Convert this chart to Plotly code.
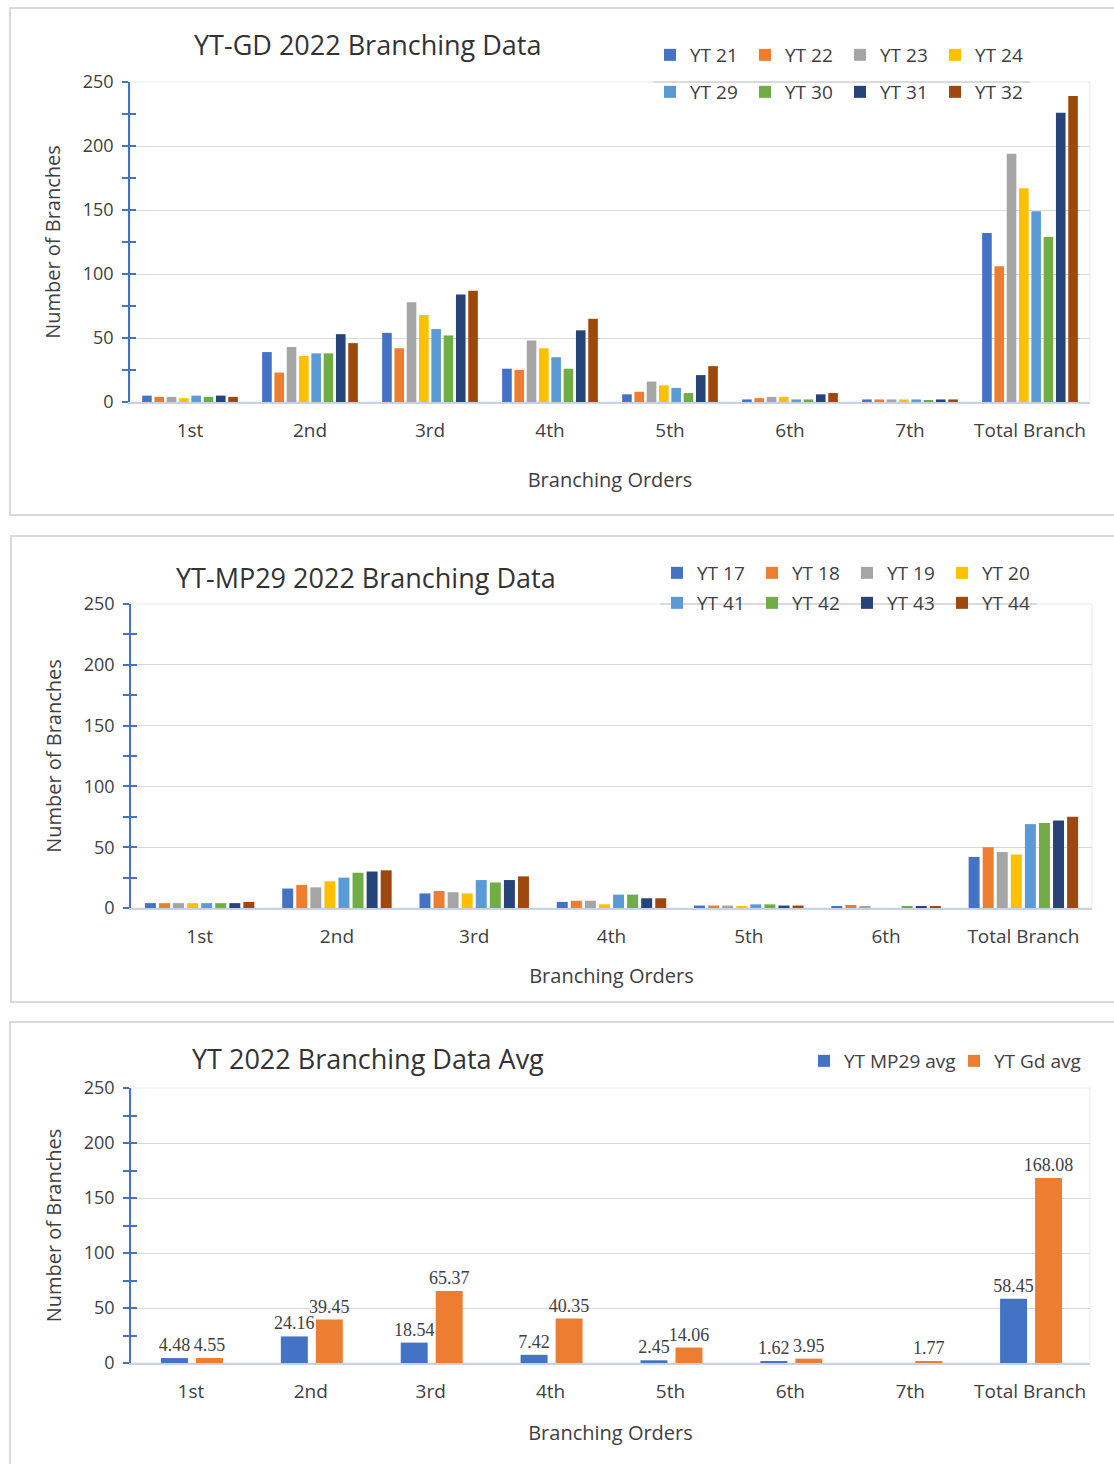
import plotly.graph_objects as go

# ---------------- data ----------------
orders_gd = ["1st", "2nd", "3rd", "4th", "5th", "6th", "7th", "Total Branch"]
orders_mp = ["1st", "2nd", "3rd", "4th", "5th", "6th", "Total Branch"]

gd_names = ["YT 21", "YT 22", "YT 23", "YT 24", "YT 29", "YT 30", "YT 31", "YT 32"]
yt21 = [5, 39, 54, 26, 6, 2, 2, 132]
yt22 = [4, 23, 42, 25, 8, 3, 2, 106]
yt23 = [4, 43, 78, 48, 16, 4, 2, 194]
yt24 = [3, 36, 68, 42, 13, 4, 2, 167]
yt29 = [5, 38, 57, 35, 11, 2, 2, 149]
yt30 = [4, 38, 52, 26, 7, 2, 1, 129]
yt31 = [5, 53, 84, 56, 21, 6, 2, 226]
yt32 = [4, 46, 87, 65, 28, 7, 2, 239]
gd_series = [yt21, yt22, yt23, yt24, yt29, yt30, yt31, yt32]

mp_names = ["YT 17", "YT 18", "YT 19", "YT 20", "YT 41", "YT 42", "YT 43", "YT 44"]
yt17 = [4, 16, 12, 5, 2, 1.5, 42]
yt18 = [4, 19, 14, 6, 2, 2.5, 50]
yt19 = [4, 17, 13, 6, 2, 1.5, 46]
yt20 = [4, 22, 12, 3, 1.5, 0, 44]
yt41 = [4, 25, 23, 11, 3, 0, 69]
yt42 = [4, 29, 21, 11, 3, 1.5, 70]
yt43 = [4, 30, 23, 8, 2, 1.5, 72]
yt44 = [5, 31, 26, 8, 2, 1.5, 75]
mp_series = [yt17, yt18, yt19, yt20, yt41, yt42, yt43, yt44]

avg_names = ["YT MP29 avg", "YT Gd avg"]
mp29_avg = [4.48, 24.16, 18.54, 7.42, 2.45, 1.62, None, 58.45]
gd_avg = [4.55, 39.45, 65.37, 40.35, 14.06, 3.95, 1.77, 168.08]

y_ticks = [0, 50, 100, 150, 200, 250]

# ---------------- styles ----------------
colors = ["#4472C4", "#ED7D31", "#A5A5A5", "#FFC000",
          "#5B9BD5", "#70AD47", "#264478", "#9E480E"]
W, H = 1114, 1464
SANS = "Open Sans, Noto Sans, sans-serif"
SERIF = "Liberation Serif, DejaVu Serif, serif"
TXT = "#404040"
AXBLUE = "#4472C4"


def px(x):
    return x / W


def py(y):
    return 1 - y / H


fig = go.Figure()

for i, (n, v) in enumerate(zip(gd_names, gd_series)):
    fig.add_trace(go.Bar(x=orders_gd, y=v, name=n, marker_color=colors[i],
                         marker_line_width=0, xaxis="x", yaxis="y",
                         legend="legend" if i < 4 else "legend2"))

for i, (n, v) in enumerate(zip(mp_names, mp_series)):
    fig.add_trace(go.Bar(x=orders_mp, y=v, name=n, marker_color=colors[i],
                         marker_line_width=0, xaxis="x2", yaxis="y2",
                         legend="legend3" if i < 4 else "legend4"))

avg_offsets = [-0.25, 0.042]
for i, (n, v) in enumerate(zip(avg_names, [mp29_avg, gd_avg])):
    fig.add_trace(go.Bar(x=orders_gd, y=v, name=n, marker_color=colors[i],
                         marker_line_width=0, xaxis="x3", yaxis="y3",
                         offset=avg_offsets[i], width=0.225,
                         text=[("%.2f" % t) if t is not None else "" for t in v],
                         textposition="outside", cliponaxis=False,
                         constraintext="none",
                         textfont=dict(family=SERIF, size=18, color=TXT),
                         legend="legend5"))

# empty helper traces so that the inner half of the "cross" tick marks is drawn
for k in range(3):
    xs = "x" if k == 0 else "x%d" % (k + 1)
    fig.add_trace(go.Scatter(x=[], y=[], xaxis=xs, yaxis="y%d" % (k + 4),
                             showlegend=False, hoverinfo="skip"))

panels = [
    dict(x0=130, x1=1090, yt=82, yb=402, st=31),
    dict(x0=131, x1=1092, yt=604, yb=908, st=21),
    dict(x0=131, x1=1090, yt=1088, yb=1363, st=23),
]

layout = dict(
    width=W, height=H,
    margin=dict(l=0, r=0, t=0, b=0, autoexpand=False),
    paper_bgcolor="white", plot_bgcolor="white",
    barmode="group", bargap=0.18, bargroupgap=0.22,
    font=dict(family=SANS, color=TXT),
    showlegend=True,
)

for k, p in enumerate(panels):
    sfx = "" if k == 0 else str(k + 1)
    layout["xaxis" + sfx] = dict(
        domain=[px(p["x0"]), px(p["x1"])], anchor="y" + sfx,
        showline=True, linecolor="#c8d2e4", linewidth=1.5,
        ticks="", ticklabelstandoff=10,
        tickfont=dict(size=19, family=SANS, color=TXT),
        title=dict(text="Branching Orders", standoff=p["st"],
                   font=dict(size=20, family=SANS, color=TXT)),
        showgrid=False, zeroline=False, fixedrange=True,
    )
    layout["yaxis" + sfx] = dict(
        domain=[py(p["yb"]), py(p["yt"])], anchor="x" + sfx,
        range=[0, 250], tickvals=y_ticks,
        showline=True, linecolor=AXBLUE, linewidth=1.5,
        ticks="outside", ticklen=6, tickcolor=AXBLUE, tickwidth=1.5,
        ticklabelstandoff=5,
        minor=dict(dtick=25, ticks="outside", ticklen=6,
                   tickcolor=AXBLUE, tickwidth=1.5, showgrid=False),
        gridcolor="#d9d9d9", gridwidth=1, zeroline=False,
        tickfont=dict(size=18, family=SANS, color=TXT),
        title=dict(text="Number of Branches", standoff=17,
                   font=dict(size=20, family=SANS, color=TXT)),
        fixedrange=True,
    )
    layout["yaxis%d" % (k + 4)] = dict(
        overlaying="y" + sfx, side="left", anchor="x" + sfx,
        range=[0, 250], tickvals=y_ticks, showticklabels=False,
        showline=False, showgrid=False, zeroline=False,
        ticks="inside", ticklen=6, tickcolor=AXBLUE, tickwidth=1.5,
        minor=dict(dtick=25, ticks="inside", ticklen=6,
                   tickcolor=AXBLUE, tickwidth=1.5, showgrid=False),
        fixedrange=True,
    )

leg_common = dict(orientation="h", xref="paper", yref="paper",
                  xanchor="left", yanchor="middle",
                  bgcolor="rgba(0,0,0,0)", borderwidth=0,
                  font=dict(size=19, family=SANS, color=TXT),
                  entrywidth=50, entrywidthmode="pixels",
                  itemclick=False, itemdoubleclick=False,
                  tracegroupgap=0)
layout["legend"] = dict(leg_common, x=px(650), y=py(55))
layout["legend2"] = dict(leg_common, x=px(650), y=py(92))
layout["legend3"] = dict(leg_common, x=px(657), y=py(573))
layout["legend4"] = dict(leg_common, x=px(657), y=py(603))
layout["legend5"] = dict(leg_common, x=px(804), y=py(1061), entrywidth=105)

fig.update_layout(**layout)

titles = [("YT-GD 2022 Branching Data", 367, 45),
          ("YT-MP29 2022 Branching Data", 366, 577),
          ("YT 2022 Branching Data Avg", 368, 1058)]
for t, x, y in titles:
    fig.add_annotation(text=t, x=px(x), y=py(y), xref="paper", yref="paper",
                       showarrow=False, xanchor="center", yanchor="middle",
                       font=dict(size=27, family=SANS, color="#333333"))

# panel frames
frames = [(10, 8, 515), (11, 536, 1002), (10, 1022, 1480)]
for x0, y0, y1 in frames:
    fig.add_shape(type="rect", xref="paper", yref="paper",
                  x0=px(x0), x1=1.02, y0=py(y1), y1=py(y0),
                  line=dict(color="#d9d9d9", width=2), layer="below")

# faint plot-area borders
for k in range(3):
    sfx = "" if k == 0 else str(k + 1)
    fig.add_shape(type="rect", xref="x%s domain" % sfx, yref="y%s domain" % sfx,
                  x0=0, x1=1, y0=0, y1=1,
                  line=dict(color="#e6ebf3", width=1), layer="below")

# legend separator lines (as in the reference)
fig.add_shape(type="line", xref="paper", yref="paper",
              x0=px(653), x1=px(1030), y0=py(82), y1=py(82),
              line=dict(color="#c0c0c0", width=1))
fig.add_shape(type="line", xref="paper", yref="paper",
              x0=px(660), x1=px(1037), y0=py(604), y1=py(604),
              line=dict(color="#c0c0c0", width=1))

fig.write_html("out.html",
               config={"displayModeBar": False},
               post_script="document.body.style.margin='0';")
